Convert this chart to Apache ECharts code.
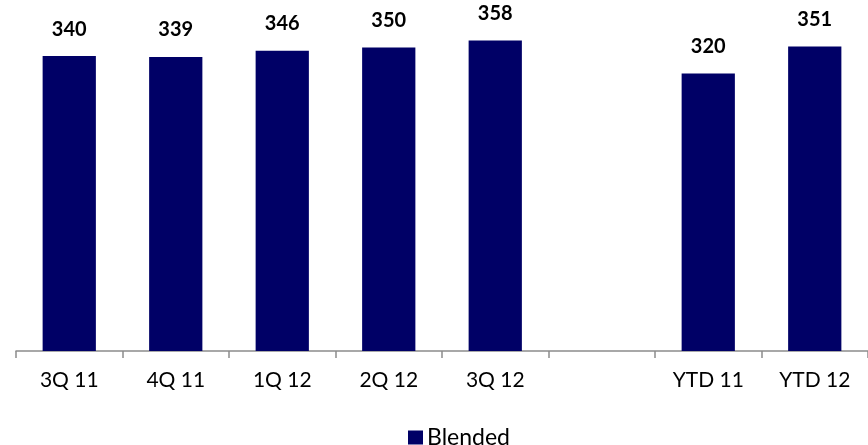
<!DOCTYPE html>
<html>
<head>
<meta charset="utf-8">
<script src="https://cdn.jsdelivr.net/npm/echarts@6/dist/echarts.min.js"></script>
<style>
  html, body { margin: 0; padding: 0; background: #fff; }
  #chart { width: 868px; height: 445px; }
</style>
</head>
<body>
<div id="chart"></div>
<script>
// Quarterly and year-to-date blended values; the blank slot separates the two groups
const categories = ['3Q 11', '4Q 11', '1Q 12', '2Q 12', '3Q 12', '', 'YTD 11', 'YTD 12'];
const blended = [340, 339, 346, 350, 358, null, 320, 351];
const seriesName = 'Blended';

const chart = echarts.init(document.getElementById('chart'));
chart.setOption({
  animation: false,
  grid: { left: 16, right: -2, top: 4, bottom: 94, containLabel: false },
  legend: {
    data: [seriesName],
    top: 421,
    left: 403,
    itemWidth: 15,
    itemHeight: 14,
    itemGap: 6,
    icon: 'rect',
    textStyle: { fontFamily: 'Lato', fontSize: 23, color: '#000', padding: [0, 0, 0, -1] }
  },
  xAxis: {
    type: 'category',
    data: categories,
    axisLine: { lineStyle: { color: '#8c8c8c', width: 1.5 } },
    axisTick: { show: true, length: 7, alignWithLabel: false, lineStyle: { color: '#8c8c8c', width: 1.5 } },
    axisLabel: { fontFamily: 'Lato', fontSize: 21, color: '#000', margin: 19 }
  },
  yAxis: {
    type: 'value',
    min: 0,
    max: 400,
    show: false,
    splitLine: { show: false }
  },
  series: [{
    name: seriesName,
    type: 'bar',
    data: blended.map(v => (v === null ? '-' : v)),
    barWidth: '50%',
    itemStyle: { color: '#000066' },
    label: {
      show: true,
      position: 'top',
      distance: 17,
      fontFamily: 'Lato',
      fontWeight: 'bold',
      fontSize: 20,
      color: '#000'
    }
  }]
});
</script>
</body>
</html>
